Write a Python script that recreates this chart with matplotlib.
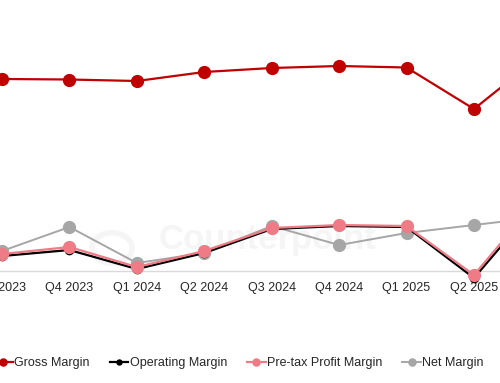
import matplotlib
matplotlib.use("Agg")
import matplotlib.pyplot as plt
from matplotlib.patches import Circle

plt.rcParams['font.family'] = ['Liberation Sans', 'DejaVu Sans']

quarters = ["Q3 2023", "Q4 2023", "Q1 2024", "Q2 2024", "Q3 2024",
            "Q4 2024", "Q1 2025", "Q2 2025", "Q3 2025"]
gross_margin = [19.2, 19.15, 19.0, 19.9, 20.3, 20.5, 20.35, 16.2, 21.6]
operating_margin = [1.5, 2.1, 0.2, 1.8, 4.2, 4.5, 4.4, -0.7, 7.2]
pretax_margin = [1.7, 2.4, 0.4, 2.0, 4.3, 4.6, 4.5, -0.4, 7.6]
net_margin = [2.0, 4.4, 0.8, 1.8, 4.5, 2.6, 3.8, 4.6, 5.4]

fig = plt.figure(figsize=(5, 3.83), dpi=100)
ax = fig.add_axes([0, 0.2924, 1, 0.7076])

x = list(range(len(quarters)))

# faint watermark
ax.text(0.535, 0.115, "Counterpoint", transform=ax.transAxes, fontsize=25,
        fontweight="bold", color="#F5F5F5", ha="center", va="center", zorder=0)
ax.add_patch(Circle((112 / 500, 1 - 248 / 383), 0.04, transform=fig.transFigure,
                    fill=False, ec="#F5F5F5", lw=4, zorder=0))

ax.plot(x, net_margin, color="#A6A6A6", lw=1.4, marker="o", ms=8.5,
        label="Net Margin", clip_on=False, zorder=2)
ax.plot(x, operating_margin, color="black", lw=1.6, marker="o", ms=6,
        label="Operating Margin", clip_on=False, zorder=3)
ax.plot(x, pretax_margin, color="#EE7B85", lw=1.6, marker="o", ms=8.5,
        label="Pre-tax Profit Margin", clip_on=False, zorder=4)
ax.plot(x, gross_margin, color="#C00000", lw=1.6, marker="o", ms=8.5,
        label="Gross Margin", clip_on=False, zorder=5)

ax.set_xticks(x)
ax.set_xticklabels(quarters, fontsize=9, color="#262626")
ax.set_xlim(-0.0297, 7.386)
ax.set_ylim(0, 27.1)
ax.tick_params(axis="x", length=0, pad=8)
ax.set_yticks([])
for s in ["top", "left", "right"]:
    ax.spines[s].set_visible(False)
ax.spines["bottom"].set_color("#D9D9D9")
ax.spines["bottom"].set_linewidth(1)

handles, labels = ax.get_legend_handles_labels()
order = [3, 1, 2, 0]
fig.legend([handles[i] for i in order], [labels[i] for i in order],
           loc="center left", bbox_to_anchor=(-0.012, 0.052), ncol=4,
           frameon=False, fontsize=9, handlelength=1.5, handletextpad=0.1,
           columnspacing=1.6, markerscale=0.6, borderpad=0, borderaxespad=0,
           labelcolor="#262626")

fig.savefig("out.png", dpi=100)
